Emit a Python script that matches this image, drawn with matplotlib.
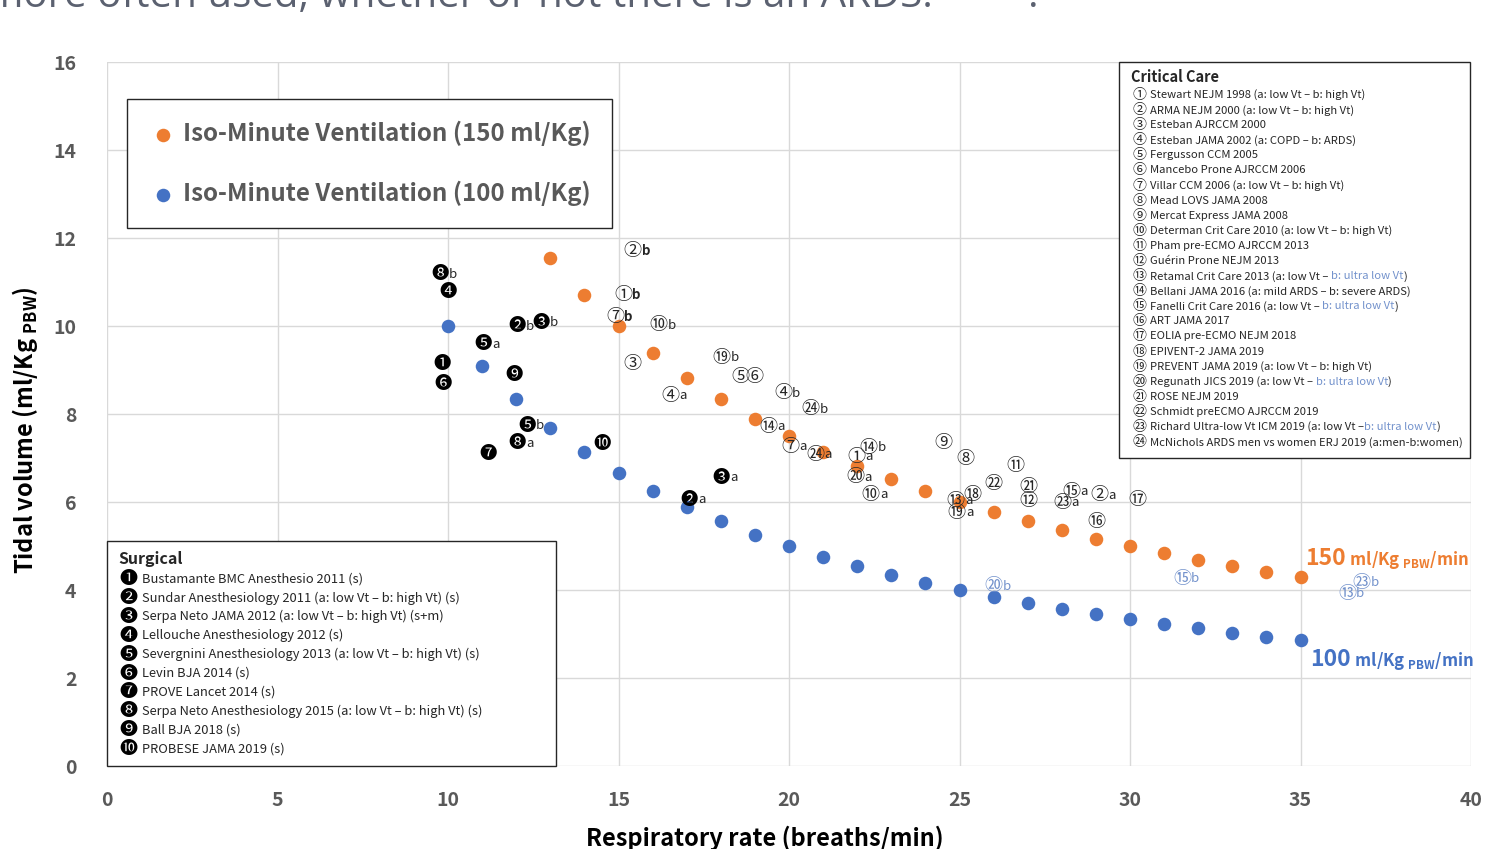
import numpy as np
import matplotlib
from matplotlib import pyplot as plt
from matplotlib.patches import Rectangle

matplotlib.use('agg')

plt.rcParams['font.family'] = ['Noto Sans CJK JP', 'DejaVu Sans']
plt.rcParams['mathtext.fontset'] = 'custom'
plt.rcParams['mathtext.rm'] = 'Noto Sans CJK JP'
plt.rcParams['mathtext.bf'] = 'Noto Sans CJK JP:bold'

ORANGE = '#ED7D31'
BLUE = '#4472C4'
GREY = '#595959'
INK = '#262626'
ULTRA = '#7392CC'

# iso-minute ventilation curves (tidal volume in ml/Kg PBW vs respiratory rate)
rr_150 = [13, 14, 15, 16, 17, 18, 19, 20, 21, 22, 23, 24, 25, 26, 27, 28, 29, 30, 31, 32, 33, 34, 35]
vt_150 = [11.54, 10.71, 10.00, 9.38, 8.82, 8.33, 7.89, 7.50, 7.14, 6.82, 6.52, 6.25, 6.00, 5.77, 5.56,
          5.36, 5.17, 5.00, 4.84, 4.69, 4.55, 4.41, 4.29]
rr_100 = [10, 11, 12, 13, 14, 15, 16, 17, 18, 19, 20, 21, 22, 23, 24, 25, 26, 27, 28, 29, 30, 31, 32, 33, 34, 35]
vt_100 = [10.00, 9.09, 8.33, 7.69, 7.14, 6.67, 6.25, 5.88, 5.56, 5.26, 5.00, 4.76, 4.55, 4.35, 4.17, 4.00,
          3.85, 3.70, 3.57, 3.45, 3.33, 3.23, 3.13, 3.03, 2.94, 2.86]

# surgical studies (filled markers)
surg_id = [8, 4, 2, 3, 5, 1, 9, 6, 5, 8, 7, 10, 3, 2]
surg_arm = ['b', '', 'b', 'b', 'a', '', '', '', 'b', 'a', '', '', 'a', 'a']
surg_rr = [9.77, 10.00, 12.02, 12.73, 11.03, 9.82, 11.94, 9.85, 12.32, 12.02, 11.17, 14.52, 18.00, 17.07]
surg_vt = [11.18, 10.77, 10.00, 10.07, 9.59, 9.14, 8.89, 8.68, 7.73, 7.34, 7.09, 7.32, 6.55, 6.05]

# critical care studies (open markers)
icu_id = [2, 1, 7, 10, 3, 19, 5, 6, 4, 4, 24, 14, 7, 24, 14, 1, 20, 10, 9, 8, 11, 22, 21, 12,
          13, 18, 19, 15, 23, 2, 16, 17, 15, 23, 13, 20]
icu_arm = ['b', 'b', 'b', 'b', '', 'b', '', '', 'a', 'b', 'b', 'a', 'a', 'a', 'b', 'a', 'a', 'a',
           '', '', '', '', '', '', 'a', '', 'a', 'a', 'a', 'a', '', '', 'b', 'b', 'b', 'b']
icu_rr = [15.42, 15.14, 14.90, 16.17, 15.42, 18.03, 18.56, 18.99, 16.53, 19.83, 20.64, 19.40, 20.05,
          20.76, 22.33, 21.98, 21.94, 22.40, 24.53, 25.16, 26.65, 25.99, 27.03, 27.03, 24.89, 25.38,
          24.92, 28.29, 28.02, 29.09, 29.02, 30.22, 31.53, 36.79, 36.37, 25.99]
icu_vt = [11.70, 10.70, 10.21, 10.02, 9.14, 9.28, 8.85, 8.83, 8.42, 8.47, 8.11, 7.71, 7.25, 7.07,
          7.23, 7.03, 6.56, 6.17, 7.33, 6.98, 6.82, 6.41, 6.35, 6.03, 6.03, 6.16, 5.76, 6.23, 5.98,
          6.15, 5.54, 6.04, 4.26, 4.17, 3.91, 4.08]
ultra_low_studies = [13, 15, 20, 23]

surg_refs = [
    "Bustamante BMC Anesthesio 2011 (s)",
    "Sundar Anesthesiology 2011 (a: low Vt – b: high Vt) (s)",
    "Serpa Neto JAMA 2012 (a: low Vt – b: high Vt) (s+m)",
    "Lellouche Anesthesiology 2012 (s)",
    "Severgnini Anesthesiology 2013 (a: low Vt – b: high Vt) (s)",
    "Levin BJA 2014 (s)",
    "PROVE Lancet 2014 (s)",
    "Serpa Neto Anesthesiology 2015 (a: low Vt – b: high Vt) (s)",
    "Ball BJA 2018 (s)",
    "PROBESE JAMA 2019 (s)",
]
# text between | | is printed in blue
icu_refs = [
    "Stewart NEJM 1998 (a: low Vt – b: high Vt)",
    "ARMA NEJM 2000 (a: low Vt – b: high Vt)",
    "Esteban AJRCCM 2000",
    "Esteban JAMA 2002 (a: COPD – b: ARDS)",
    "Fergusson CCM 2005",
    "Mancebo Prone AJRCCM 2006",
    "Villar CCM 2006 (a: low Vt – b: high Vt)",
    "Mead LOVS JAMA 2008",
    "Mercat Express JAMA 2008",
    "Determan Crit Care 2010 (a: low Vt – b: high Vt)",
    "Pham pre-ECMO AJRCCM 2013",
    "Guérin Prone NEJM 2013",
    "Retamal Crit Care 2013 (a: low Vt – |b: ultra low Vt|)",
    "Bellani JAMA 2016 (a: mild ARDS – b: severe ARDS)",
    "Fanelli Crit Care 2016 (a: low Vt – |b: ultra low Vt|)",
    "ART JAMA 2017",
    "EOLIA pre-ECMO NEJM 2018",
    "EPIVENT-2 JAMA 2019",
    "PREVENT JAMA 2019 (a: low Vt – b: high Vt)",
    "Regunath JICS 2019 (a: low Vt – |b: ultra low Vt|)",
    "ROSE NEJM 2019",
    "Schmidt preECMO AJRCCM 2019",
    "Richard Ultra-low Vt ICM 2019 (a: low Vt –|b: ultra low Vt|)",
    "McNichols ARDS men vs women ERJ 2019 (a:men-b:women)",
]


def circled(n):
    return chr(0x2460 + n - 1) if n <= 20 else chr(0x3251 + n - 21)


def filled(n):
    return chr(0x2776 + n - 1)


def px2ax(px, py):
    # reference-picture pixels -> axes fraction
    return (px - 107) / 1364, (766 - py) / 704


fig, ax = plt.subplots(figsize=(14.86, 8.49), dpi=100)
fig.subplots_adjust(left=107 / 1486, right=1471 / 1486, bottom=1 - 766 / 849, top=1 - 62 / 849)

ax.scatter(rr_150, vt_150, s=95, color=ORANGE, linewidths=0, zorder=3,
           label='Iso-Minute Ventilation (150 ml/Kg)')
ax.scatter(rr_100, vt_100, s=95, color=BLUE, linewidths=0, zorder=3,
           label='Iso-Minute Ventilation (100 ml/Kg)')

ax.set_xlim(0, 40)
ax.set_ylim(0, 16)
ax.set_xticks(np.arange(0, 41, 5))
ax.set_yticks(np.arange(0, 17, 2))
ax.grid(True, color='#d9d9d9', linewidth=1)
ax.set_axisbelow(True)
for sp in ax.spines.values():
    sp.set_visible(False)
ax.tick_params(length=0, labelsize=14, labelcolor=GREY)
ax.tick_params(axis='y', pad=22)
ax.tick_params(axis='x', pad=18)
for lbl in ax.get_xticklabels() + ax.get_yticklabels():
    lbl.set_fontweight('bold')

# study annotations
for n, arm, x, y in zip(surg_id, surg_arm, surg_rr, surg_vt):
    ax.text(x, y, filled(n), ha='center', va='center', fontsize=12.5, color='black', zorder=4)
    if arm:
        ax.annotate(arm, (x, y), xytext=(6.5, 0), textcoords='offset points', ha='left', va='center',
                    fontsize=9.5, color=INK, zorder=4)

for n, arm, x, y in zip(icu_id, icu_arm, icu_rr, icu_vt):
    col = ULTRA if (arm == 'b' and n in ultra_low_studies) else INK
    ax.text(x, y, circled(n), ha='center', va='center', fontsize=13, color=col, zorder=4)
    if arm:
        bold = arm == 'b' and n in (1, 2, 7) and y > 10
        ax.annotate(arm, (x, y), xytext=(6.5, 0), textcoords='offset points', ha='left', va='center',
                    fontsize=9.5, color=col, fontweight='bold' if bold else 'normal', zorder=4)

# curve labels
t = ax.text(35.13, 4.57, '150', fontsize=16.5, fontweight='bold', color=ORANGE, va='baseline')
ax.annotate(' ml/Kg $_{\\mathbf{PBW}}$/min', xy=(1, 4.57), xycoords=(t, 'data'), fontsize=12,
            fontweight='bold', color=ORANGE, va='baseline')
t = ax.text(35.28, 2.28, '100', fontsize=16.5, fontweight='bold', color=BLUE, va='baseline')
ax.annotate(' ml/Kg $_{\\mathbf{PBW}}$/min', xy=(1, 2.28), xycoords=(t, 'data'), fontsize=12,
            fontweight='bold', color=BLUE, va='baseline')

# iso-minute legend
leg = ax.legend(loc='upper left', bbox_to_anchor=px2ax(127, 99), borderaxespad=0, fancybox=False,
                edgecolor=INK, framealpha=1, prop={'weight': 'bold', 'size': 17.4}, labelcolor=GREY,
                labelspacing=1.45, borderpad=0.9, handletextpad=0.2, handlelength=1.2)
leg.get_frame().set_linewidth(1.0)
leg.set_zorder(6)

# critical care box
x0, y0 = px2ax(1119, 458)
x1, y1 = px2ax(1470, 62)
ax.add_patch(Rectangle((x0, y0), x1 - x0, y1 - y0, transform=ax.transAxes, facecolor='white',
                       edgecolor=INK, linewidth=1.0, zorder=6, clip_on=False))
ax.text(*px2ax(1131, 77), 'Critical Care', transform=ax.transAxes, fontsize=10.5, fontweight='bold',
        color=INK, va='center', ha='left', zorder=7)
for i, ref in enumerate(icu_refs):
    yy = 95 + 15.09 * i
    ax.text(*px2ax(1139, yy), circled(i + 1), transform=ax.transAxes, fontsize=10, color=INK,
            va='center', ha='center', zorder=7)
    parts = ref.split('|')
    tx = ax.text(*px2ax(1150, yy), parts[0], transform=ax.transAxes, fontsize=8.1, color=INK,
                 va='center', ha='left', zorder=7)
    for k, p in enumerate(parts[1:], 1):
        tx = ax.annotate(p, xy=(1, px2ax(0, yy)[1]), xycoords=(tx, ax.transAxes), fontsize=8.1,
                         color=ULTRA if k % 2 else INK, va='center', ha='left', zorder=7)

# surgical box
x0, y0 = px2ax(107, 766)
x1, y1 = px2ax(556, 541)
ax.add_patch(Rectangle((x0, y0), x1 - x0, y1 - y0, transform=ax.transAxes, facecolor='white',
                       edgecolor=INK, linewidth=1.0, zorder=6, clip_on=False))
ax.text(*px2ax(118, 559), 'Surgical', transform=ax.transAxes, fontsize=11.5, fontweight='bold',
        color=INK, va='center', ha='left', zorder=7)
for i, ref in enumerate(surg_refs):
    yy = 579 + 18.9 * i
    ax.text(*px2ax(128, yy), filled(i + 1), transform=ax.transAxes, fontsize=13, color='black',
            va='center', ha='center', zorder=7)
    ax.text(*px2ax(142, yy), ref, transform=ax.transAxes, fontsize=9.3, color=INK,
            va='center', ha='left', zorder=7)

# axis titles
ax.set_ylabel('Tidal volume (ml/Kg $_{\\mathbf{PBW}}$)', fontsize=17, fontweight='bold', color='black')
ax.yaxis.set_label_coords(-(107 - 40) / 1364, (766 - 430) / 704)
fig.text(765 / 1486, 1 - 846 / 849, 'Respiratory rate (breaths/min)', ha='center', va='baseline',
         fontsize=17, fontweight='bold', color='black')

# slide text cut off at the top
fig.text(933 / 1486, 1 - 7 / 849, 'more often used, whether or not there is an ARDS.', ha='right',
         va='baseline', fontsize=29, color='#5b6170', family='Open Sans')
fig.text(1033 / 1486, 1 - 7 / 849, '.', ha='center', va='baseline', fontsize=29, color='#5b6170',
         family='Open Sans')

plt.savefig('out.png', dpi=100)
plt.close()
